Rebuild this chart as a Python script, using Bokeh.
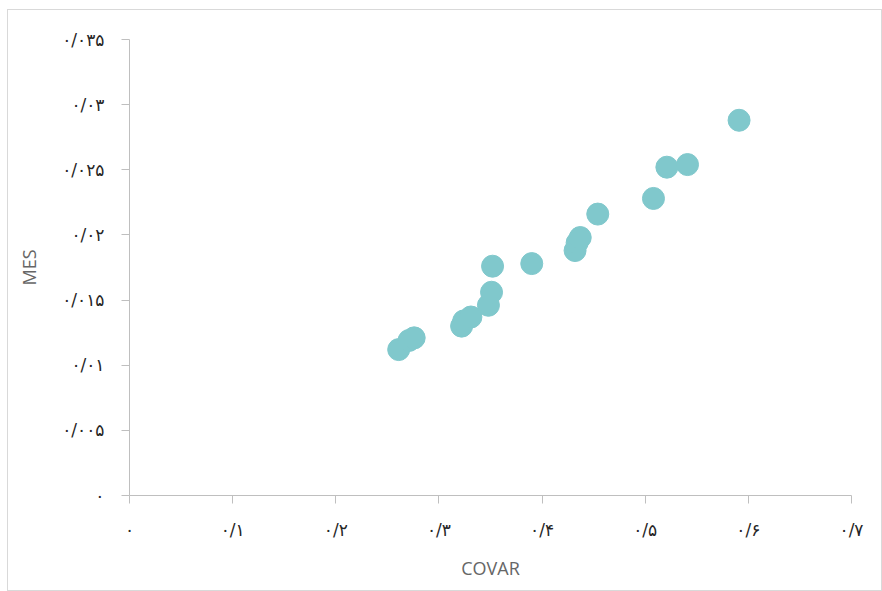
from bokeh.plotting import figure
from bokeh.models import Range1d, FixedTicker
from bokeh.embed import file_html
from bokeh.resources import INLINE

covar = [0.261, 0.271, 0.276, 0.322, 0.324, 0.331, 0.348, 0.351, 0.352,
         0.390, 0.432, 0.434, 0.437, 0.454, 0.508, 0.521, 0.541, 0.591]
mes = [0.0112, 0.0119, 0.0121, 0.0130, 0.0134, 0.0137, 0.0146, 0.0156, 0.0176,
       0.0178, 0.0188, 0.0194, 0.0198, 0.0216, 0.0228, 0.0252, 0.0254, 0.0288]

x_ticks = [0, 0.1, 0.2, 0.3, 0.4, 0.5, 0.6, 0.7]
x_labels = ["۰", "۰/۱", "۰/۲", "۰/۳", "۰/۴", "۰/۵", "۰/۶", "۰/۷"]
y_ticks = [0, 0.005, 0.01, 0.015, 0.02, 0.025, 0.03, 0.035]
y_labels = ["۰", "۰/۰۰۵", "۰/۰۱", "۰/۰۱۵", "۰/۰۲", "۰/۰۲۵", "۰/۰۳", "۰/۰۳۵"]

p = figure(width=875, height=582, output_backend="svg", toolbar_location=None,
           x_range=Range1d(0, 0.7), y_range=Range1d(0, 0.035),
           min_border_left=121, min_border_right=32, min_border_top=29,
           min_border_bottom=97)
p.styles = {"border": "1px solid #d9d9d9", "margin-left": "7px", "margin-top": "9px"}

p.scatter(covar, mes, size=22, color="#80c8cc", line_color="#80c8cc")

p.grid.visible = False
p.outline_line_color = None

p.xaxis.ticker = FixedTicker(ticks=x_ticks)
p.xaxis.major_label_overrides = dict(zip(x_ticks, x_labels))
p.yaxis.ticker = FixedTicker(ticks=y_ticks)
p.yaxis.major_label_overrides = dict(zip(y_ticks, y_labels))

for ax in (p.xaxis[0], p.yaxis[0]):
    ax.axis_line_color = "#bfbfbf"
    ax.major_tick_line_color = "#bfbfbf"
    ax.major_tick_out = 8
    ax.major_tick_in = 0
    ax.minor_tick_line_color = None
    ax.major_label_text_font = "DejaVu Sans"
    ax.major_label_text_font_size = "17px"
    ax.major_label_text_color = "#262626"
    ax.axis_label_text_font = "Open Sans"
    ax.axis_label_text_font_style = "normal"
    ax.axis_label_text_font_size = "18px"
    ax.axis_label_text_color = "#666666"

p.xaxis.axis_label = "COVAR"
p.yaxis.axis_label = "MES"
p.xaxis.major_label_standoff = 16
p.yaxis.major_label_standoff = 17
p.xaxis.axis_label_standoff = 13
p.yaxis.axis_label_standoff = 18

open("out.html", "w").write(file_html(p, INLINE))
